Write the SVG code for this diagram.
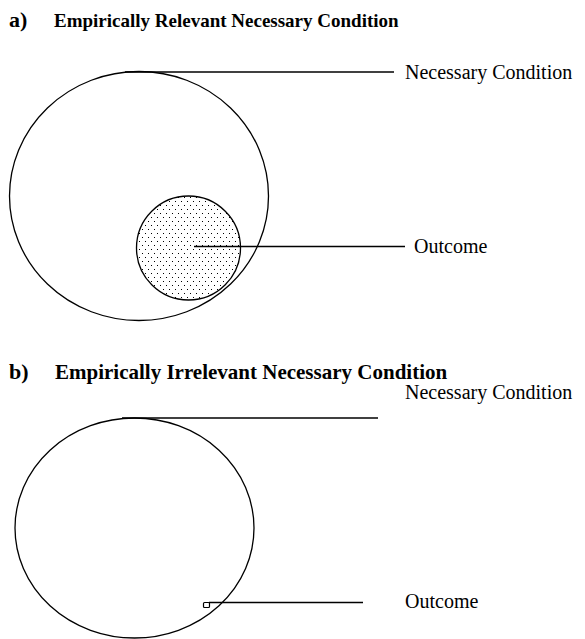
<svg xmlns="http://www.w3.org/2000/svg" width="585" height="639" viewBox="0 0 585 639">
<style>
.sh{fill:none;stroke:#000;stroke-width:1.3}
.ln{stroke:#000;stroke-width:1.3;fill:none}
.lbl{font-family:"Liberation Serif",serif;font-size:20px;fill:#000}
.ttl{font-family:"Liberation Serif",serif;font-weight:bold;fill:#000}
</style>
<defs>
<pattern id="dots" x="0" y="0" width="6" height="8" patternUnits="userSpaceOnUse">
<rect x="1" y="1" width="1" height="1" fill="#000"/>
<rect x="4" y="5" width="1" height="1" fill="#000"/>
</pattern>
</defs>
<rect width="585" height="639" fill="#fff"/>
<g id="title-a">
<text class="ttl" x="9" y="27" font-size="22">a)</text>
<text class="ttl" x="54" y="27" font-size="19">Empirically Relevant Necessary Condition</text>
</g>
<g id="title-b">
<text class="ttl" x="9" y="379" font-size="22">b)</text>
<text class="ttl" x="55" y="379" font-size="21">Empirically Irrelevant Necessary Condition</text>
</g>
<g id="nc-a">
<ellipse class="sh" cx="139" cy="196" rx="129.5" ry="124.5"/>
</g>
<g id="out-a">
<circle cx="188.5" cy="248" r="52" fill="url(#dots)" stroke="#000" stroke-width="1.3"/>
</g>
<g id="nc-b">
<ellipse class="sh" cx="134.5" cy="528" rx="119.5" ry="110"/>
</g>
<g id="out-b">
<rect x="203.5" y="602.5" width="6" height="5" rx="1" fill="#fff" stroke="#000" stroke-width="1.2"/>
</g>
<g id="connectors">
<line class="ln" x1="125" y1="72" x2="394" y2="72"/>
<line class="ln" x1="194" y1="246.5" x2="405" y2="246.5"/>
<line class="ln" x1="122" y1="418" x2="378" y2="418"/>
<line class="ln" x1="209" y1="602.5" x2="363" y2="602.5"/>
</g>
<g id="labels">
<text class="lbl" x="405" y="79">Necessary Condition</text>
<text class="lbl" x="414" y="253">Outcome</text>
<text class="lbl" x="405" y="399">Necessary Condition</text>
<text class="lbl" x="405" y="608">Outcome</text>
</g>
</svg>
